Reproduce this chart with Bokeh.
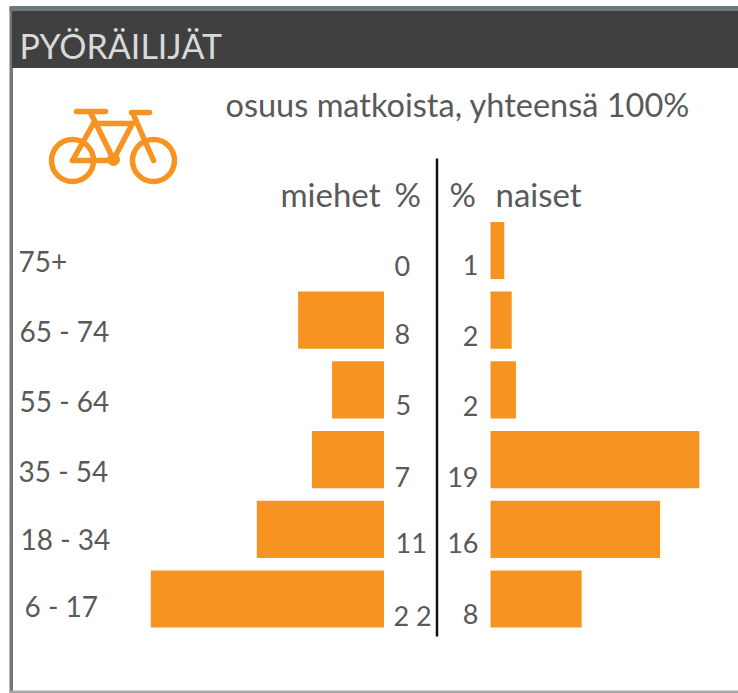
from bokeh.plotting import figure
from bokeh.models import Range1d, ColumnDataSource
from bokeh.core.properties import value
from bokeh.embed import file_html
from bokeh.resources import INLINE

# --- data ---
age_groups = ["75+", "65 - 74", "55 - 64", "35 - 54", "18 - 34", "6 - 17"]
men_bars = [0, 8.1, 4.9, 6.8, 12.0, 22.0]
women_bars = [1.3, 2.0, 2.4, 19.7, 16.0, 8.6]
men_labels = ["0", "8", "5", "7", "11", "2 2"]
women_labels = ["1", "2", "2", "19", "16", "8"]
title = "PYÖRÄILIJÄT"
subtitle = "osuus matkoista, yhteensä 100%"
men_head = "miehet"
women_head = "naiset"
pct = "%"

# --- layout constants (reference-image pixel frame) ---
W, H = 738, 693
X0, Y0 = 0, 0
X1, Y1 = X0 + W, Y0 + H
PX_PER_PCT = 10.6
MEN_ZERO, WOMEN_ZERO = 383.5, 490
ROW0_Y, ROW_PITCH = 250, 69.7
ORANGE = "#F79321"
GREY = "#595959"
FONT = value("Lato")

p = figure(width=W, height=H, output_backend="svg", toolbar_location=None,
           x_range=Range1d(X0, X1), y_range=Range1d(Y1, Y0),
           min_border=0, outline_line_color=None, background_fill_color="white",
           border_fill_color="white", x_axis_type=None, y_axis_type=None)
p.grid.visible = False
p.extra_x_ranges = {
    "men": Range1d((MEN_ZERO - X0) / PX_PER_PCT, (MEN_ZERO - X1) / PX_PER_PCT),
    "women": Range1d((X0 - WOMEN_ZERO) / PX_PER_PCT, (X1 - WOMEN_ZERO) / PX_PER_PCT),
}
p.extra_y_ranges = {
    "rows": Range1d((Y1 - ROW0_Y) / ROW_PITCH, (Y0 - ROW0_Y) / ROW_PITCH),
}

# frame and title band
p.quad(left=[9.5], right=[X1], top=[6], bottom=[11], color="#6E777C")
p.quad(left=[9.5], right=[12], top=[6], bottom=[Y1], color="#6E777C")
p.quad(left=[9.5], right=[X1], top=[690.5], bottom=[692.5], color="#A6A6A6")
p.quad(left=[12], right=[X1], top=[11], bottom=[67], color="#404040")

rows = list(range(len(age_groups)))
src = ColumnDataSource(dict(row=rows, age=age_groups, men=men_bars, women=women_bars))

p.hbar(y="row", left=0, right="men", height=0.82, source=src, fill_color=ORANGE, line_color=None,
       x_range_name="men", y_range_name="rows")
p.hbar(y="row", left=0, right="women", height=0.82, source=src, fill_color=ORANGE, line_color=None,
       x_range_name="women", y_range_name="rows")

# centre divider
p.segment(x0=[436.5], x1=[436.5], y0=[158], y1=[636], line_color="#111111", line_width=2.5)

# age labels, men's and women's values: hand-lettered offsets from each row centre
age_x = [18, 19, 19, 18, 20, 24]
age_dy = [11, 11, 11, 11, 10, 7]
men_x = [394, 394, 395, 394, 395, 393]
men_dy = [15, 14, 15, 17, 14, 16]
women_x = [478, 478, 478, 478, 478, 478]
women_dy = [14, 16, 16, 17, 14, 15]

for i in rows:
    p.text(x=[age_x[i]], y=[i], text=[age_groups[i]], y_offset=age_dy[i],
           text_font=FONT, text_font_size="28px", text_color=GREY,
           text_baseline="middle", y_range_name="rows")
    p.text(x=[men_x[i]], y=[i], text=[men_labels[i]], y_offset=men_dy[i],
           text_font=FONT, text_font_size="27px", text_color=GREY,
           text_baseline="middle", y_range_name="rows")
    p.text(x=[women_x[i]], y=[i], text=[women_labels[i]], y_offset=women_dy[i],
           text_font=FONT, text_font_size="27px", text_color=GREY,
           text_align="right", text_baseline="middle", y_range_name="rows")

# headings
p.text(x=[19], y=[45], text=[title], text_font=FONT, text_font_size="34px",
       text_color="#D9D9D9", text_baseline="middle")
p.text(x=[225], y=[104], text=[subtitle], text_font=FONT, text_font_size="32.5px",
       text_color=GREY, text_baseline="middle")
p.text(x=[380], y=[193], text=[men_head], text_font=FONT, text_font_size="33px",
       text_color=GREY, text_align="right", text_baseline="middle")
p.text(x=[394], y=[193], text=[pct], text_font=FONT, text_font_size="33px",
       text_color=GREY, text_baseline="middle")
p.text(x=[449], y=[193], text=[pct], text_font=FONT, text_font_size="33px",
       text_color=GREY, text_baseline="middle")
p.text(x=[495], y=[193], text=[women_head], text_font=FONT, text_font_size="33px",
       text_color=GREY, text_baseline="middle")

# bicycle icon
bike_x0 = [76, 131, 93, 90, 72, 72, 132, 132]
bike_y0 = [111, 112, 123, 112, 160, 160, 123, 112]
bike_x1 = [105, 149, 132, 113, 113, 93, 113, 153]
bike_y1 = [111, 112, 123, 159, 160, 123, 159, 160]
p.segment(bike_x0, bike_y0, bike_x1, bike_y1, line_color=ORANGE, line_width=5.5, line_cap="round")
p.circle(x=[72, 153], y=[160, 160], radius=21, radius_units="screen", fill_color=None,
         line_color=ORANGE, line_width=5.5)
p.circle(x=[113], y=[159], radius=6, radius_units="screen", color=ORANGE)

open("out.html", "w").write(file_html(p, INLINE))
